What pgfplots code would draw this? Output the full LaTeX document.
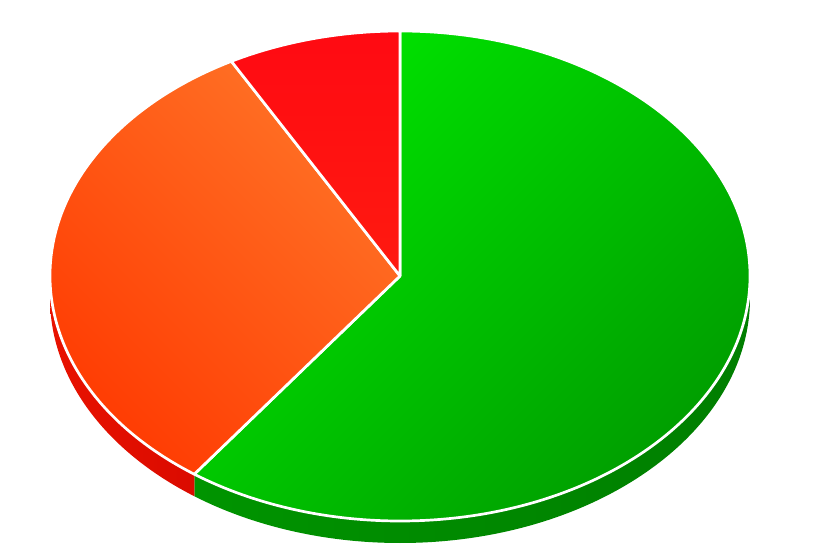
\documentclass[border=0pt]{standalone}
\usepackage{pgfplots}
\usepackage{pgfplotstable}
\pgfplotsset{compat=1.18}
\definecolor{gA}{HTML}{00E400}
\definecolor{gB}{HTML}{009E00}
\definecolor{oA}{HTML}{FF7226}
\definecolor{oB}{HTML}{FF3800}
\definecolor{rA}{HTML}{FF0A12}
\definecolor{rB}{HTML}{FF1A10}
\definecolor{gsA}{HTML}{009400}
\definecolor{gsB}{HTML}{007E00}
\definecolor{rsA}{HTML}{E81200}
\definecolor{rsB}{HTML}{C80000}
\pgfplotstableread{
slice value
green 60
orange 32
red 8
}\piedata
\begin{document}
\begin{tikzpicture}
\pgfplotstablegetelem{0}{value}\of\piedata \let\vG\pgfplotsretval
\pgfplotstablegetelem{1}{value}\of\piedata \let\vO\pgfplotsretval
\pgfplotstablegetelem{2}{value}\of\piedata \let\vR\pgfplotsretval
\pgfmathsetmacro{\tot}{\vG+\vO+\vR}
\pgfmathsetmacro{\aG}{90-3.6*(100*\vG/\tot)}
\pgfmathsetmacro{\aO}{\aG-3.6*(100*\vO/\tot)}
\pgfmathsetmacro{\aR}{\aO-3.6*(100*\vR/\tot)}
\begin{axis}[scale only axis, width=814pt, height=545pt,
  xmin=0, xmax=814, ymin=0, ymax=545, hide axis, clip=false]
\addplot[draw=none] coordinates {(0,0) (814,545)};
% sides
\shade[left color=gsA, right color=gsB]
  (axis cs:400,269) ++(\aG:350pt and 245pt)
  arc[start angle=\aG, end angle=0, x radius=350pt, y radius=245pt]
  -- ++(0,-22pt)
  arc[start angle=0, end angle=\aG, x radius=350pt, y radius=245pt] -- cycle;
\shade[left color=rsA, right color=rsB]
  (axis cs:400,269) ++(-180:350pt and 245pt)
  arc[start angle=-180, end angle=\aG, x radius=350pt, y radius=245pt]
  -- ++(0,-22pt)
  arc[start angle=\aG, end angle=-180, x radius=350pt, y radius=245pt] -- cycle;
% top
\shadedraw[draw=white, line width=2.7pt, line join=round, top color=gA, bottom color=gB, shading angle=45]
  (axis cs:400,269) -- ++(90:350pt and 245pt)
  arc[start angle=90, end angle=\aG, x radius=350pt, y radius=245pt] -- cycle;
\shadedraw[draw=white, line width=2.7pt, line join=round, top color=oA, bottom color=oB, shading angle=-45]
  (axis cs:400,269) -- ++(\aG:350pt and 245pt)
  arc[start angle=\aG, end angle=\aO, x radius=350pt, y radius=245pt] -- cycle;
\shadedraw[draw=white, line width=2.7pt, line join=round, top color=rA, bottom color=rB]
  (axis cs:400,269) -- ++(\aO:350pt and 245pt)
  arc[start angle=\aO, end angle=\aR, x radius=350pt, y radius=245pt] -- cycle;
\end{axis}
\end{tikzpicture}
\end{document}
